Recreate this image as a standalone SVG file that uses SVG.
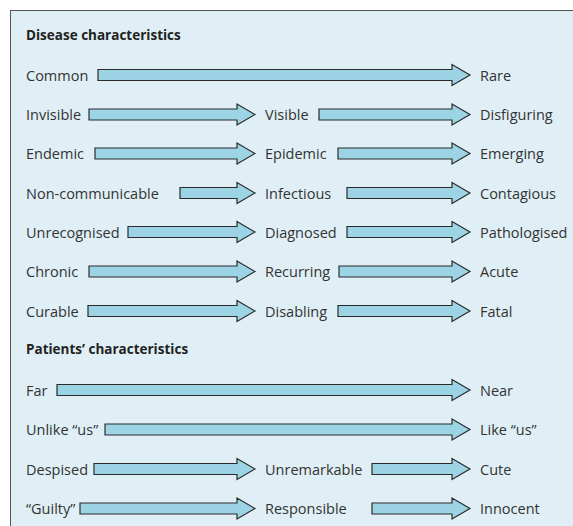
<svg xmlns="http://www.w3.org/2000/svg" width="573" height="526" viewBox="0 0 573 526">
<style>
.bg{fill:#dfeff5;stroke:#555;stroke-width:1}
.arr{fill:#9dd4e5;stroke:#2b2b2b;stroke-width:1.2;stroke-linejoin:miter}
.t{font-family:"Open Sans","Liberation Sans",Arial,sans-serif;font-size:14.5px;fill:#333}
.h{font-family:"Open Sans","Liberation Sans",Arial,sans-serif;font-size:13.5px;font-weight:bold;fill:#222}
</style>
<rect x="0" y="0" width="573" height="526" fill="#fff"/>
<rect class="bg" x="10.5" y="10.5" width="600" height="600"/>
<text class="h" x="26" y="39.5">Disease characteristics</text>
<text class="h" x="26" y="354">Patients’ characteristics</text>
<g id="connectors">
<path class="arr" d="M98 69.5H452V64.5L470 75L452 85.5V80.5H98Z"/>
<path class="arr" d="M89 109H237V104L255 114.5L237 125V120H89Z"/>
<path class="arr" d="M319 109H452V104L470 114.5L452 125V120H319Z"/>
<path class="arr" d="M95 148H237V143L255 153.5L237 164V159H95Z"/>
<path class="arr" d="M338 148H452V143L470 153.5L452 164V159H338Z"/>
<path class="arr" d="M180 187.5H237V182.5L255 193L237 203.5V198.5H180Z"/>
<path class="arr" d="M347 187.5H452V182.5L470 193L452 203.5V198.5H347Z"/>
<path class="arr" d="M128 226.5H237V221.5L255 232L237 242.5V237.5H128Z"/>
<path class="arr" d="M347 226.5H452V221.5L470 232L452 242.5V237.5H347Z"/>
<path class="arr" d="M89 266H237V261L255 271.5L237 282V277H89Z"/>
<path class="arr" d="M339 266H452V261L470 271.5L452 282V277H339Z"/>
<path class="arr" d="M88 305.5H237V300.5L255 311L237 321.5V316.5H88Z"/>
<path class="arr" d="M338 305.5H452V300.5L470 311L452 321.5V316.5H338Z"/>
<path class="arr" d="M57 384.5H452V379.5L470 390L452 400.5V395.5H57Z"/>
<path class="arr" d="M105 424H452V419L470 429.5L452 440V435H105Z"/>
<path class="arr" d="M94 463.5H237V458.5L255 469L237 479.5V474.5H94Z"/>
<path class="arr" d="M372 463.5H452V458.5L470 469L452 479.5V474.5H372Z"/>
<path class="arr" d="M80 503H237V498L255 508.5L237 519V514H80Z"/>
<path class="arr" d="M372 503H452V498L470 508.5L452 519V514H372Z"/>
</g>
<g id="n-common"><text class="t" x="26" y="80.5">Common</text></g>
<g id="n-rare"><text class="t" x="480" y="80.5">Rare</text></g>
<g id="n-invisible"><text class="t" x="26" y="120">Invisible</text></g>
<g id="n-visible"><text class="t" x="265" y="120">Visible</text></g>
<g id="n-disfiguring"><text class="t" x="480" y="120">Disfiguring</text></g>
<g id="n-endemic"><text class="t" x="26" y="159">Endemic</text></g>
<g id="n-epidemic"><text class="t" x="265" y="159">Epidemic</text></g>
<g id="n-emerging"><text class="t" x="480" y="159">Emerging</text></g>
<g id="n-noncomm"><text class="t" x="26" y="198.5">Non-communicable</text></g>
<g id="n-infectious"><text class="t" x="265" y="198.5">Infectious</text></g>
<g id="n-contagious"><text class="t" x="480" y="198.5">Contagious</text></g>
<g id="n-unrecognised"><text class="t" x="26" y="237.5">Unrecognised</text></g>
<g id="n-diagnosed"><text class="t" x="265" y="237.5">Diagnosed</text></g>
<g id="n-pathologised"><text class="t" x="480" y="237.5">Pathologised</text></g>
<g id="n-chronic"><text class="t" x="26" y="277">Chronic</text></g>
<g id="n-recurring"><text class="t" x="265" y="277">Recurring</text></g>
<g id="n-acute"><text class="t" x="480" y="277">Acute</text></g>
<g id="n-curable"><text class="t" x="26" y="316.5">Curable</text></g>
<g id="n-disabling"><text class="t" x="265" y="316.5">Disabling</text></g>
<g id="n-fatal"><text class="t" x="480" y="316.5">Fatal</text></g>
<g id="n-far"><text class="t" x="26" y="395.5">Far</text></g>
<g id="n-near"><text class="t" x="480" y="395.5">Near</text></g>
<g id="n-unlike"><text class="t" x="26" y="435">Unlike “us”</text></g>
<g id="n-like"><text class="t" x="480" y="435">Like “us”</text></g>
<g id="n-despised"><text class="t" x="26" y="474.5">Despised</text></g>
<g id="n-unremarkable"><text class="t" x="265" y="474.5">Unremarkable</text></g>
<g id="n-cute"><text class="t" x="480" y="474.5">Cute</text></g>
<g id="n-guilty"><text class="t" x="26" y="514">“Guilty”</text></g>
<g id="n-responsible"><text class="t" x="265" y="514">Responsible</text></g>
<g id="n-innocent"><text class="t" x="480" y="514">Innocent</text></g>
</svg>
